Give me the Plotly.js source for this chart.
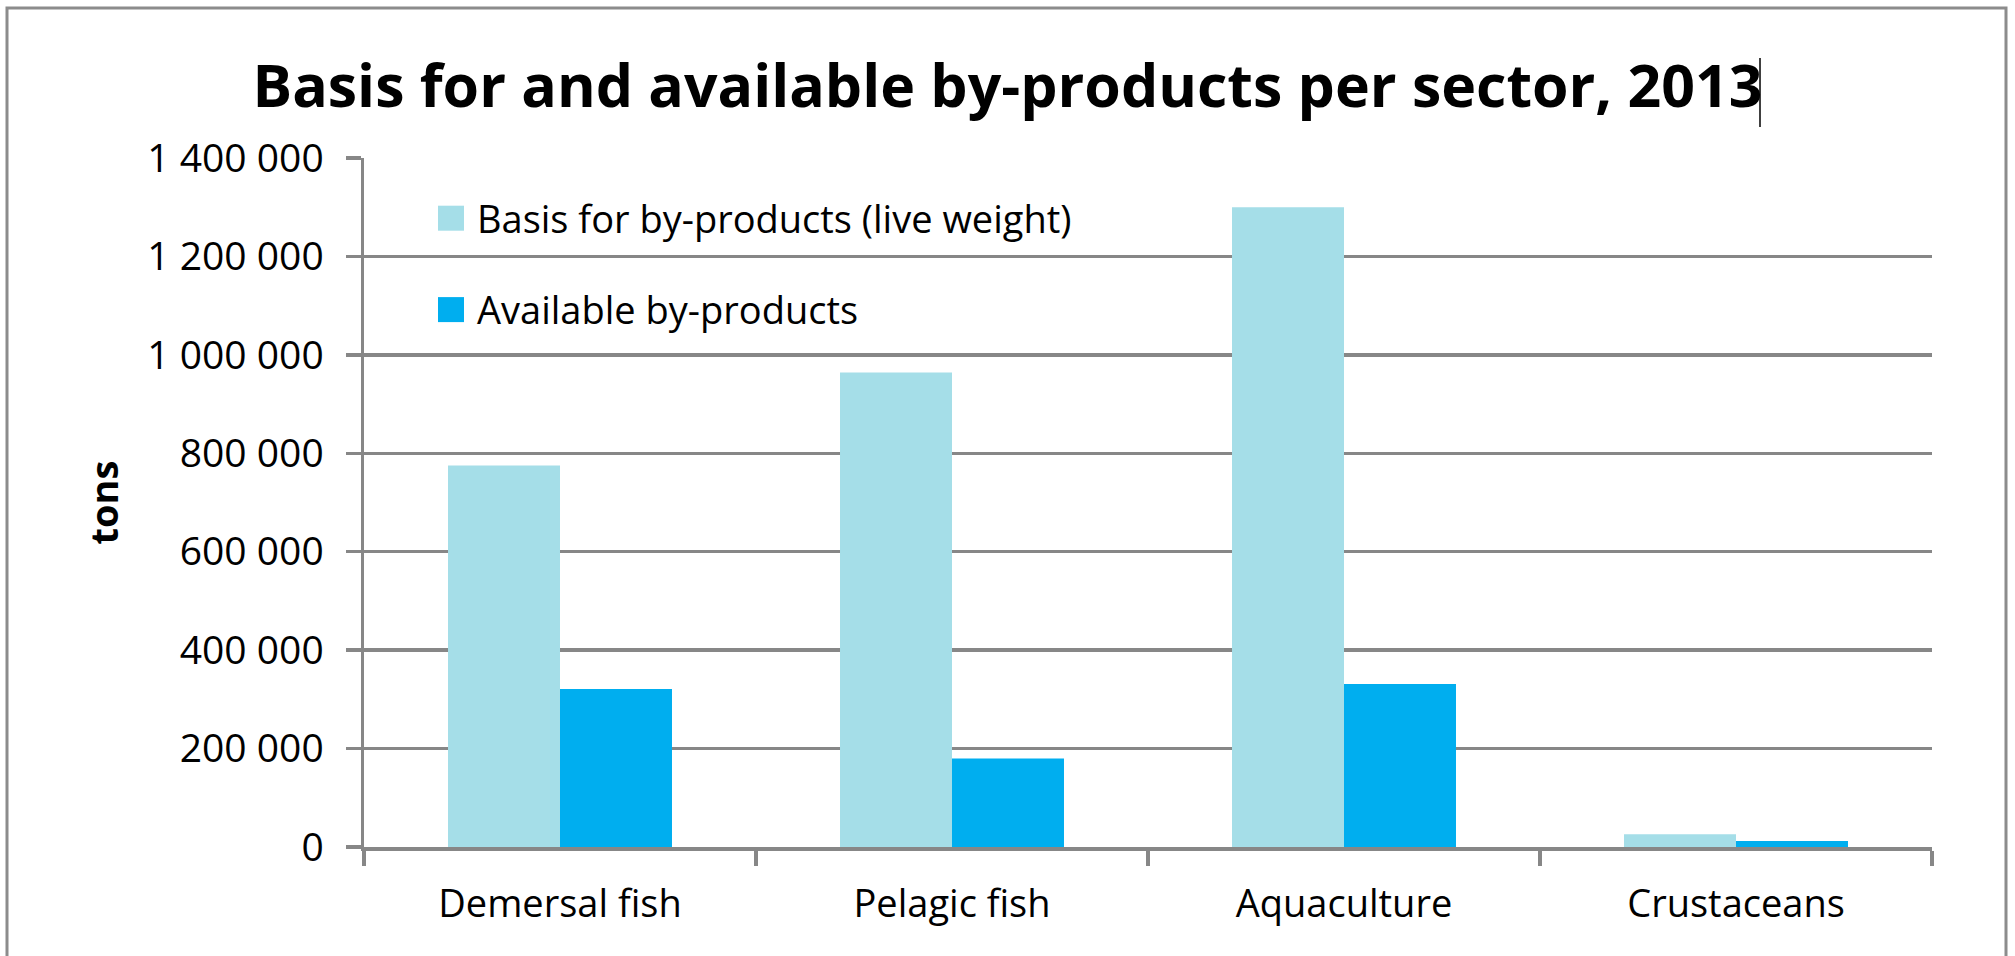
<!DOCTYPE html>
<html>
<head>
<meta charset="utf-8">
<script src="https://cdn.plot.ly/plotly-3.0.1.min.js"></script>
<style>
  html, body { margin: 0; padding: 0; background: #ffffff; }
  #chart { width: 2015px; height: 956px; }
</style>
</head>
<body>
<div id="chart"></div>
<script>
// ---- data ----
const categories = ["Demersal fish", "Pelagic fish", "Aquaculture", "Crustaceans"];
const basisLiveWeight = [775000, 964000, 1300000, 26000];
const availableByProducts = [321000, 180000, 331000, 12000];
const seriesNames = ["Basis for by-products (live weight)", "Available by-products"];
const yTickValues = [0, 200000, 400000, 600000, 800000, 1000000, 1200000, 1400000];
const chartTitle = "Basis for and available by-products per sector, 2013";
const yAxisTitle = "tons";

const FONT = "'Open Sans', Lato, sans-serif";
const GRID = "#878787";

const traces = [
  {
    type: "bar",
    name: seriesNames[0],
    x: categories,
    y: basisLiveWeight,
    marker: { color: "#A5DEE8" },
    legendgroup: "g1",
    hoverinfo: "x+y+name"
  },
  {
    type: "bar",
    name: seriesNames[1],
    x: categories,
    y: availableByProducts,
    marker: { color: "#00AEEF" },
    legendgroup: "g2",
    hoverinfo: "x+y+name"
  }
];

// plot area: x 364..1932, y 158..847 (px)
const L = 364, R = 1932, T = 158, B = 847;
const px = v => (v - L) / (R - L);
const py = v => (B - v) / (B - T);

const layout = {
  width: 2015,
  height: 956,
  margin: { l: L, r: 2015 - R, t: T, b: 956 - B, pad: 0 },
  paper_bgcolor: "#ffffff",
  plot_bgcolor: "#ffffff",
  separators: ". ",
  font: { family: FONT, color: "#000000", size: 36 },
  title: {
    text: "<b>" + chartTitle + "</b>",
    font: { family: FONT, size: 59, color: "#000000" },
    x: 0.5,
    xref: "container",
    xanchor: "center",
    y: 1 - 86 / 956,
    yref: "container",
    yanchor: "middle"
  },
  barmode: "group",
  bargap: 0.4286,
  bargroupgap: 0,
  showlegend: true,
  legend: {
    x: px(437),
    y: py(187),
    xanchor: "left",
    yanchor: "top",
    bgcolor: "rgba(0,0,0,0)",
    borderwidth: 0,
    traceorder: "grouped",
    tracegroupgap: 39,
    font: { family: FONT, size: 38, color: "#000000" }
  },
  xaxis: {
    type: "category",
    showgrid: false,
    zeroline: false,
    showline: true,
    linecolor: GRID,
    linewidth: 3.5,
    ticks: "outside",
    tickson: "boundaries",
    ticklen: 15,
    tickwidth: 3.5,
    tickcolor: GRID,
    ticklabelstandoff: 21,
    tickfont: { family: FONT, size: 38, color: "#000000" },
    fixedrange: true
  },
  yaxis: {
    range: [0, 1400000],
    tickvals: yTickValues,
    tickformat: ",d",
    showgrid: true,
    gridcolor: GRID,
    gridwidth: 3.5,
    zeroline: false,
    showline: true,
    linecolor: GRID,
    linewidth: 3.5,
    ticks: "outside",
    ticklen: 15,
    tickwidth: 3.5,
    tickcolor: GRID,
    ticklabelstandoff: 14,
    tickfont: { family: FONT, size: 39, color: "#000000" },
    title: {
      text: "<b>" + yAxisTitle + "</b>",
      font: { family: FONT, size: 38, color: "#000000" },
      standoff: 18
    },
    fixedrange: true
  },
  shapes: [
    {
      type: "rect", xref: "paper", yref: "paper",
      x0: px(7), x1: px(2006), y0: py(990), y1: py(8),
      line: { color: "#8c8c8c", width: 3 },
      fillcolor: "rgba(0,0,0,0)",
      layer: "below"
    },
    {
      type: "line", xref: "paper", yref: "paper",
      x0: px(1760), x1: px(1760), y0: py(127), y1: py(58),
      line: { color: "#000000", width: 1.5 }
    }
  ]
};

Plotly.newPlot("chart", traces, layout, { displayModeBar: false, staticPlot: true }).then(function () {
  // enlarge legend swatches to the square size used in the reference
  document.querySelectorAll("#chart .legend .legendpoints path").forEach(function (p) {
    p.setAttribute("d", "M7,12.5H-19V-12.5H7Z");
  });
});
</script>
</body>
</html>
